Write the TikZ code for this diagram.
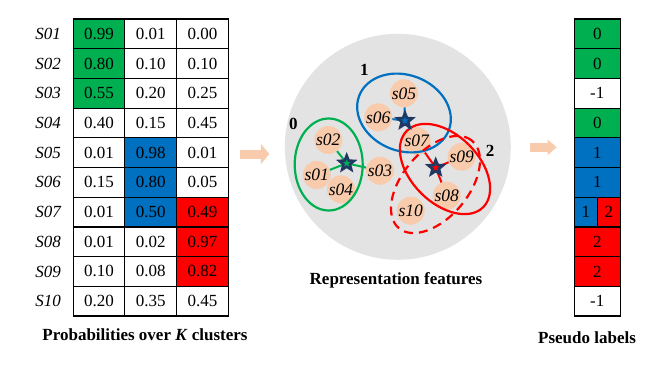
\documentclass[tikz,border=0pt]{standalone}
\usepackage{fontspec}
\setmainfont{Liberation Serif}
\usetikzlibrary{shapes.geometric,arrows.meta}
\definecolor{gcl}{RGB}{0,176,80}
\definecolor{bcl}{RGB}{0,112,192}
\definecolor{rcl}{RGB}{255,0,0}
\definecolor{peach}{RGB}{248,203,173}
\definecolor{bgray}{RGB}{227,227,227}
\definecolor{navy}{RGB}{31,56,100}

\begin{document}
\begin{tikzpicture}[x=1pt,y=-1pt]
  \tikzset{cell/.style={draw,line width=1.2pt,minimum width=51.7pt,minimum height=29.7pt,inner sep=0pt,font=\fontsize{17}{17}\selectfont},
    rowlab/.style={font=\fontsize{17}{17}\selectfont\itshape},
    plab/.style={draw,line width=1.2pt,minimum width=46pt,minimum height=29.7pt,inner sep=0pt,font=\fontsize{17}{17}\selectfont},
    feat/.style={circle,fill=peach,minimum size=28pt,inner sep=0pt,font=\fontsize{17.5}{17.5}\selectfont\itshape},
    centroid/.style={star,star points=5,star point ratio=2.3,minimum size=15.5pt,inner sep=0pt,draw=navy,line width=2.6pt,fill=#1},
    caption/.style={font=\fontsize{17}{17}\selectfont\bfseries},
    link/.style={line width=2pt}}
  \useasboundingbox (0,0) rectangle (661,365);
  % probability table
  \foreach \i/\lab/\pa/\pb/\pc/\fa/\fb/\fc in {1/S01/0.99/0.01/0.00/gcl/white/white,2/S02/0.80/0.10/0.10/gcl/white/white,
      3/S03/0.55/0.20/0.25/gcl/white/white,4/S04/0.40/0.15/0.45/white/white/white,5/S05/0.01/0.98/0.01/white/bcl/white,
      6/S06/0.15/0.80/0.05/white/bcl/white,7/S07/0.01/0.50/0.49/white/bcl/rcl,8/S08/0.01/0.02/0.97/white/white/rcl,
      9/S09/0.10/0.08/0.82/white/white/rcl,10/S10/0.20/0.35/0.45/white/white/white}{
    \pgfmathsetmacro\yy{33.85+29.7*(\i-1)}
    \node[rowlab] (r\i) at (48,\yy) {\lab};
    \node[cell,fill=\fa] (p\i-1) at (99,\yy) {\pa};
    \node[cell,fill=\fb] (p\i-2) at (150.7,\yy) {\pb};
    \node[cell,fill=\fc] (p\i-3) at (202.4,\yy) {\pc};
  }
  \node[caption] (capP) at (145,335) {Probabilities over \textit{K} clusters};
  % pseudo labels
  \foreach \i/\v/\f in {1/0/gcl,2/0/gcl,3/-1/white,4/0/gcl,5/1/bcl,6/1/bcl,8/2/rcl,9/2/rcl,10/-1/white}{
    \pgfmathsetmacro\yy{33.85+29.7*(\i-1)}
    \node[plab,fill=\f] (q\i) at (597.3,\yy) {\v};
  }
  \node[plab,fill=bcl,minimum width=23pt] (q7a) at (585.8,212.05) {1};
  \node[plab,fill=rcl,minimum width=23pt] (q7b) at (608.8,212.05) {2};
  \node[caption] (capL) at (587,338) {Pseudo labels};
  % arrows
  \coordinate (aL) at (240,154);
  \coordinate (aLe) at (269.3,154);
  \coordinate (aR) at (530,147.3);
  \coordinate (aRe) at (556.7,147.3);
  \draw[peach,line width=9pt,-{Triangle[width=20pt,length=8.5pt]}] (aL) -- (aLe);
  \draw[peach,line width=9pt,-{Triangle[width=15pt,length=9pt]}] (aR) -- (aRe);
  % feature space
  \fill[bgray] (397.8,146.8) circle (113pt);
  \node[caption] (capR) at (396,280) {Representation features};
  \foreach \n/\x/\y in {s01/316.7/175,s02/328.3/140,s03/380/170.7,s04/341/189.3,s05/404/93.3,
      s06/378.3/117.3,s07/416.7/141,s08/446.7/195.7,s09/461.7/156.7,s10/410.7/210.7}
    \node[feat] (\n) at (\x,\y) {\n};
  \draw[gcl,line width=2.2pt] (328.7,164.5) ellipse [x radius=34pt,y radius=46pt];
  \draw[bcl,line width=2.2pt,rotate around={-21:(404,113)}] (404,113) ellipse [x radius=48pt,y radius=38pt];
  \draw[rcl,line width=2.2pt,rotate around={-45:(445,169)}] (445,169) ellipse [x radius=54pt,y radius=34pt];
  \draw[rcl,line width=2.2pt,dash pattern=on 9pt off 6pt,rotate around={50:(435.5,184.5)}] (435.5,184.5) ellipse [x radius=57pt,y radius=33pt];
  \node[caption] (k0) at (293.3,124.3) {0};
  \node[caption] (k1) at (364.3,70) {1};
  \node[caption] (k2) at (490,151) {2};
  \coordinate (c0p) at (346.7,163.3);
  \coordinate (c1p) at (405,120.7);
  \coordinate (c2p) at (435.7,167.7);
  \draw[link,gcl] (c0p) -- (s02) (c0p) -- (s01) (c0p) -- (s03);
  \draw[link,bcl] (c1p) -- (s05) (c1p) -- (s06) (c1p) -- (s07);
  \draw[link,rcl] (c2p) -- (s07) (c2p) -- (s09) (c2p) -- (s08);
  \node[centroid=gcl] (c0) at (c0p) {};
  \node[centroid=bcl] (c1) at (c1p) {};
  \node[centroid=rcl] (c2) at (c2p) {};
\end{tikzpicture}
\end{document}
